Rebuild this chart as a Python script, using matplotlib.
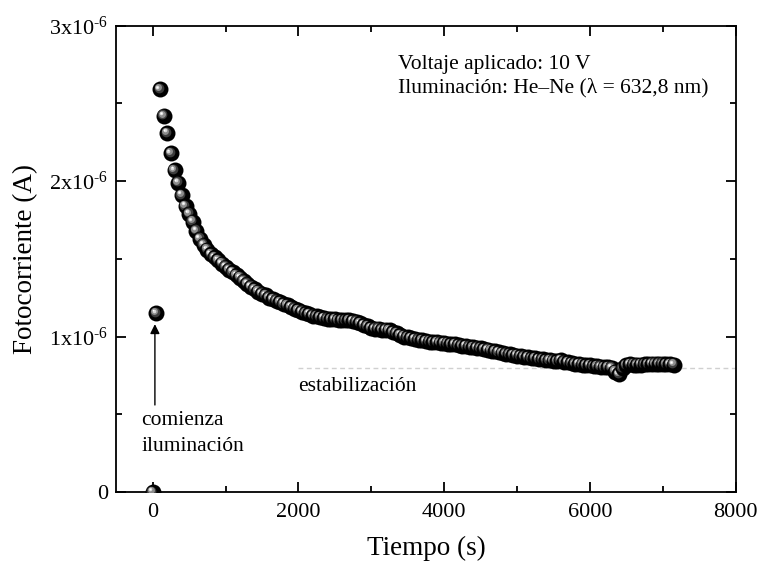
import matplotlib
matplotlib.use('Agg')
import matplotlib.pyplot as plt
from matplotlib.transforms import offset_copy
from matplotlib.ticker import MultipleLocator, FixedLocator

plt.rcParams['font.family'] = ['Liberation Serif', 'DejaVu Serif']
plt.rcParams['mathtext.fontset'] = 'custom'
plt.rcParams['mathtext.rm'] = 'Liberation Serif'
plt.rcParams['mathtext.it'] = 'Liberation Serif:italic'

# Datos (tiempo en s, fotocorriente en A x 1e-6)
tiempo = [
    0, 50, 100, 150, 200, 250, 300, 350, 400, 450, 500, 550, 600, 650, 700,
    750, 800, 850, 900, 950, 1000, 1050, 1100, 1150, 1200, 1250, 1300, 1350,
    1400, 1450, 1500, 1550, 1600, 1650, 1700, 1750, 1800, 1850, 1900, 1950,
    2000, 2050, 2100, 2150, 2200, 2250, 2300, 2350, 2400, 2450, 2500, 2550,
    2600, 2650, 2700, 2750, 2800, 2850, 2900, 2950, 3000, 3050, 3100, 3150,
    3200, 3250, 3300, 3350, 3400, 3450, 3500, 3550, 3600, 3650, 3700, 3750,
    3800, 3850, 3900, 3950, 4000, 4050, 4100, 4150, 4200, 4250, 4300, 4350,
    4400, 4450, 4500, 4550, 4600, 4650, 4700, 4750, 4800, 4850, 4900, 4950,
    5000, 5050, 5100, 5150, 5200, 5250, 5300, 5350, 5400, 5450, 5500, 5550,
    5600, 5650, 5700, 5750, 5800, 5850, 5900, 5950, 6000, 6050, 6100, 6150,
    6200, 6250, 6300, 6350, 6400, 6450, 6500, 6550, 6600, 6650, 6700, 6750,
    6800, 6850, 6900, 6950, 7000, 7050, 7100, 7150,
]
corriente = [
    0.0, 1.15, 2.59, 2.42, 2.31, 2.18, 2.07, 1.99, 1.91, 1.84, 1.79, 1.74,
    1.68, 1.63, 1.59, 1.56, 1.53, 1.51, 1.49, 1.47, 1.45, 1.43, 1.415, 1.395,
    1.38, 1.36, 1.34, 1.32, 1.305, 1.29, 1.275, 1.265, 1.25, 1.24, 1.23, 1.22,
    1.21, 1.20, 1.19, 1.18, 1.17, 1.16, 1.15, 1.145, 1.135, 1.13, 1.125, 1.12,
    1.115, 1.11, 1.11, 1.105, 1.105, 1.105, 1.105, 1.10, 1.095, 1.085, 1.075,
    1.065, 1.055, 1.05, 1.05, 1.045, 1.045, 1.04, 1.03, 1.02, 1.01, 1.00,
    0.995, 0.99, 0.985, 0.98, 0.975, 0.97, 0.968, 0.965, 0.962, 0.96, 0.958,
    0.955, 0.952, 0.95, 0.945, 0.942, 0.94, 0.935, 0.93, 0.928, 0.925, 0.92,
    0.915, 0.91, 0.905, 0.90, 0.895, 0.89, 0.885, 0.882, 0.878, 0.875, 0.87,
    0.866, 0.862, 0.86, 0.856, 0.853, 0.85, 0.848, 0.845, 0.843, 0.85, 0.838,
    0.834, 0.83, 0.826, 0.823, 0.82, 0.817, 0.814, 0.811, 0.808, 0.806, 0.804,
    0.802, 0.80, 0.775, 0.758, 0.795, 0.815, 0.822, 0.82, 0.818, 0.82, 0.822,
    0.823, 0.825, 0.825, 0.826, 0.825, 0.824, 0.822, 0.82,
]
corriente_A = [c * 1e-6 for c in corriente]

y_ticks = [0, 1e-6, 2e-6, 3e-6]
y_ticklabels = ['0', r'1x10$^{\text{-6}}$', r'2x10$^{\text{-6}}$',
                r'3x10$^{\text{-6}}$']
x_ticks = [0, 2000, 4000, 6000, 8000]
nivel_estable = 0.797e-6

fig = plt.figure(figsize=(7.59, 5.66), dpi=100)
ax = fig.add_axes([0.1532, 0.1307, 0.8161, 0.8239])

# esferas: negro + brillos desplazados hacia arriba a la izquierda
capas = [
    (11.5, '#000000', 0.0),
    (7.0, '#3c3c3c', 1.0),
    (5.0, '#8c8c8c', 1.5),
    (2.6, '#d8d8d8', 1.9),
    (1.2, '#ffffff', 2.1),
]
trans = {d: offset_copy(ax.transData, fig=fig, x=-d, y=d, units='points')
         for _, _, d in capas}
for t, c in zip(tiempo, corriente_A):
    for ms, col, d in capas:
        ax.plot([t], [c], 'o', ms=ms, color=col, mec='none',
                transform=trans[d], zorder=3)

ax.hlines(nivel_estable, 2000, 8000, colors='#d0d0d0',
          linestyles=(0, (3.5, 2.5)), lw=1, zorder=2)

ax.set_xlim(-500, 8000)
ax.set_ylim(0, 3e-6)
ax.xaxis.set_major_locator(FixedLocator(x_ticks))
ax.xaxis.set_minor_locator(MultipleLocator(1000))
ax.yaxis.set_major_locator(FixedLocator(y_ticks))
ax.yaxis.set_minor_locator(MultipleLocator(0.5e-6))
ax.set_yticklabels(y_ticklabels)
ax.set_xticklabels([str(v) for v in x_ticks])

ax.tick_params(which='both', direction='in', top=True, right=True,
               width=1.3, labelsize=16)
ax.tick_params(which='major', length=7.5)
ax.tick_params(which='minor', length=4)
ax.tick_params(axis='x', pad=8)
ax.tick_params(axis='y', pad=6)
for s in ax.spines.values():
    s.set_linewidth(1.3)

ax.set_xlabel('Tiempo (s)', fontsize=19.5, labelpad=10)
ax.set_ylabel('Fotocorriente (A)', fontsize=19.5, labelpad=8)

ax.text(3370, 2.753e-6, 'Voltaje aplicado: 10 V', fontsize=15.5, va='center')
ax.text(3370, 2.598e-6, 'Iluminación: He–Ne (λ = 632,8 nm)', fontsize=15.5,
        va='center')
ax.text(2000, 0.68e-6, 'estabilización', fontsize=15.5, va='center')
ax.text(-160, 0.463e-6, 'comienza', fontsize=15.5, va='center')
ax.text(-160, 0.29e-6, 'iluminación', fontsize=15.5, va='center')
ax.annotate('', xy=(30, 1.08e-6), xytext=(30, 0.56e-6),
            arrowprops=dict(arrowstyle='-|>', color='black', lw=1,
                            mutation_scale=14, shrinkA=0, shrinkB=0))

fig.savefig('out.png', dpi=100)
